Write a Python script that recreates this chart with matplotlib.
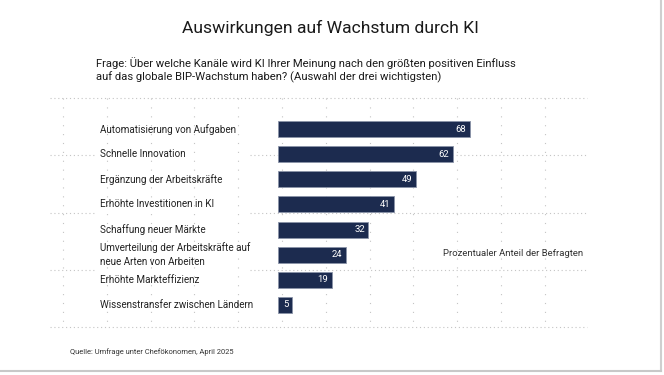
import matplotlib.pyplot as plt
import matplotlib.transforms as mtransforms
from matplotlib.lines import Line2D

plt.rcParams['font.family'] = ['Roboto', 'DejaVu Sans']

# Data
categories = [
    "Automatisierung von Aufgaben",
    "Schnelle Innovation",
    "Ergänzung der Arbeitskräfte",
    "Erhöhte Investitionen in KI",
    "Schaffung neuer Märkte",
    "Umverteilung der Arbeitskräfte auf\nneue Arten von Arbeiten",
    "Erhöhte Markteffizienz",
    "Wissenstransfer zwischen Ländern",
]
values = [68, 62, 49, 41, 32, 24, 19, 5]

title = "Auswirkungen auf Wachstum durch KI"
question = ("Frage: Über welche Kanäle wird KI Ihrer Meinung nach den größten positiven Einfluss\n"
            "auf das globale BIP-Wachstum haben? (Auswahl der drei wichtigsten)")
axis_note = "Prozentualer Anteil der Befragten"
source = "Quelle: Umfrage unter Chefökonomen, April 2025"

W, H = 664, 375
fig = plt.figure(figsize=(W / 100, H / 100), dpi=100)
fig.patch.set_facecolor('white')

def fx(px):
    return px / W

def fy(py):
    return 1 - py / H

# slide guide grid (dotted)
grid_col = '#c4c4c4'
for x in [63 + 43.8 * k for k in range(12)]:
    fig.add_artist(Line2D([fx(x), fx(x)], [fy(98), fy(327)], color=grid_col,
                          lw=0.8, ls=(0, (1, 7)), zorder=0))
for y in [98, 327]:
    fig.add_artist(Line2D([fx(50), fx(587)], [fy(y), fy(y)], color=grid_col,
                          lw=0.8, ls=(0, (1, 2.5)), zorder=0))
for y in [155, 213, 270]:
    fig.add_artist(Line2D([fx(50), fx(95)], [fy(y), fy(y)], color=grid_col,
                          lw=0.8, ls=(0, (1, 2.5)), zorder=0))
    fig.add_artist(Line2D([fx(250), fx(587)], [fy(y), fy(y)], color=grid_col,
                          lw=0.8, ls=(0, (1, 2.5)), zorder=0))

# slide border shadow
fig.add_artist(Line2D([fx(661), fx(661)], [fy(0), fy(371)], color='#cfcfcf', lw=1.5))
fig.add_artist(Line2D([fx(0), fx(661)], [fy(371), fy(371)], color='#c8c8c8', lw=1.5))

# bar axes: x 0 at px 278, 2.82 px per unit
ax = fig.add_axes([fx(278), fy(317.5), 282 / W, 201 / H])
ax.set_xlim(0, 100)
ax.set_ylim(7.5, -0.5)
ax.axis('off')
ax.patch.set_alpha(0)

pos = list(range(len(values)))
ax.barh(pos, values, height=0.64, color='#1c2b4f', edgecolor='#8a93a8', linewidth=0.6, zorder=3)
for p, v in zip(pos, values):
    ax.text(v - 1.2, p, str(v), ha='right', va='center', color='white',
            fontsize=6.8, zorder=4)

trans = mtransforms.blended_transform_factory(fig.transFigure, ax.transData)
for p, c in zip(pos, categories):
    ax.text(fx(100), p, c, transform=trans, ha='left', va='center',
            fontsize=7.1, color='#222222', linespacing=1.45)

fig.text(fx(330), fy(28), title, ha='center', va='center', fontsize=12.6, color='#1a1a1a')
fig.text(fx(96), fy(70), question, ha='left', va='center', fontsize=8.15,
         color='#1a1a1a', linespacing=1.35)
fig.text(fx(443), fy(253), axis_note, ha='left', va='center', fontsize=6.8, color='#333333')
fig.text(fx(70), fy(352), source, ha='left', va='center', fontsize=5.4, color='#333333')

fig.savefig('out.png', dpi=100, facecolor='white')
